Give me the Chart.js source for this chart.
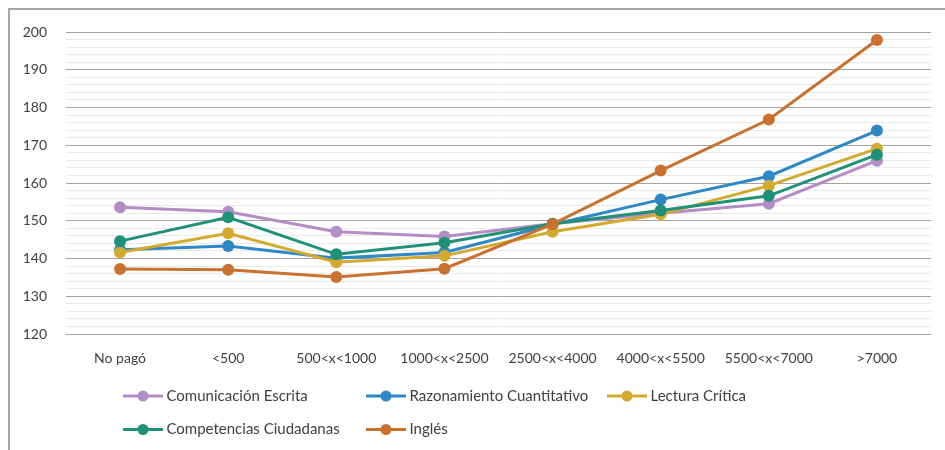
<!DOCTYPE html>
<html>
<head>
<meta charset="utf-8">
<script src="https://cdn.jsdelivr.net/npm/chart.js@4.4.1/dist/chart.umd.min.js"></script>
<style>
  html, body { margin: 0; padding: 0; background: #ffffff; }
  #wrap { position: relative; width: 945px; height: 450px; }
</style>
</head>
<body>
<div id="wrap"><canvas id="c" width="945" height="450"></canvas></div>
<script>
// ---- data ----
const categories = ['No pagó', '<500', '500<x<1000', '1000<x<2500', '2500<x<4000', '4000<x<5500', '5500<x<7000', '>7000'];
const seriesNames = ['Comunicación Escrita', 'Razonamiento Cuantitativo', 'Lectura Crítica', 'Competencias Ciudadanas', 'Inglés'];
const comunicacionEscrita      = [153.6, 152.4, 147.1, 145.8, 149.2, 152.0, 154.5, 165.9];
const razonamientoCuantitativo = [142.3, 143.3, 140.1, 141.6, 149.0, 155.6, 161.8, 173.9];
const lecturaCritica           = [141.6, 146.7, 139.0, 140.7, 147.1, 151.7, 159.3, 169.1];
const competenciasCiudadanas   = [144.6, 150.9, 141.1, 144.2, 149.2, 152.7, 156.6, 167.5];
const ingles                   = [137.2, 137.0, 135.1, 137.3, 149.1, 163.3, 176.8, 197.9];
const yMin = 120, yMax = 200, yMajorStep = 10, yMinorStep = 2;

const seriesValues = [comunicacionEscrita, razonamientoCuantitativo, lecturaCritica, competenciasCiudadanas, ingles];
const seriesColors = ['#B48DC6', '#2F88C6', '#D3AA2D', '#1F9178', '#C9722F'];

const FONT = 'Lato, "Open Sans", sans-serif';
const TEXT = '#404040';

const datasets = seriesNames.map((name, i) => ({
  label: name,
  data: seriesValues[i],
  borderColor: seriesColors[i],
  backgroundColor: seriesColors[i],
  pointBackgroundColor: seriesColors[i],
  pointBorderColor: seriesColors[i],
  borderWidth: 3,
  pointRadius: 6,
  pointBorderWidth: 0,
  pointHoverRadius: 6,
  tension: 0,
  fill: false,
  order: seriesNames.length - i
}));

// frame + custom legend layout
const framePlugin = {
  id: 'frame',
  beforeDraw(chart) {
    const ctx = chart.ctx;
    ctx.save();
    ctx.strokeStyle = '#A6A6A6';
    ctx.lineWidth = 2;
    ctx.beginPath();
    ctx.moveTo(9, 460);
    ctx.lineTo(9, 9);
    ctx.lineTo(960, 9);
    ctx.stroke();
    ctx.restore();
  }
};

const legendPlugin = {
  id: 'customLegend',
  afterDraw(chart) {
    const ctx = chart.ctx;
    const cols = [123, 366, 607];
    const rows = [396, 429.5];
    ctx.save();
    ctx.font = '15px ' + FONT;
    ctx.textBaseline = 'middle';
    ctx.textAlign = 'left';
    chart.data.datasets.forEach((ds, i) => {
      const x = cols[i % 3];
      const y = rows[Math.floor(i / 3)];
      ctx.strokeStyle = ds.borderColor;
      ctx.lineWidth = 3;
      ctx.beginPath();
      ctx.moveTo(x, y);
      ctx.lineTo(x + 40, y);
      ctx.stroke();
      ctx.fillStyle = ds.borderColor;
      ctx.beginPath();
      ctx.arc(x + 20, y, 5.5, 0, Math.PI * 2);
      ctx.fill();
      ctx.fillStyle = TEXT;
      ctx.fillText(ds.label, x + 43.5, y);
    });
    ctx.restore();
  }
};

new Chart(document.getElementById('c'), {
  type: 'line',
  data: { labels: categories, datasets },
  plugins: [framePlugin, legendPlugin],
  options: {
    responsive: false,
    animation: false,
    events: [],
    layout: { padding: { left: 0, right: 14, top: 32, bottom: 0 } },
    plugins: {
      legend: { display: false },
      tooltip: { enabled: false },
      title: { display: false }
    },
    scales: {
      x: {
        offset: true,
        grid: { display: false, drawTicks: false },
        border: { display: false },
        ticks: {
          color: TEXT,
          font: { family: FONT, size: 14 },
          padding: 16,
          maxRotation: 0,
          autoSkip: false
        },
        afterFit(scale) { scale.height = 116; }
      },
      y: {
        min: yMin,
        max: yMax,
        grid: {
          drawTicks: false,
          lineWidth: 1,
          color: (c) => (c.tick && Math.round(c.tick.value) % yMajorStep === 0) ? '#A3A3A3' : '#EAEAEA'
        },
        border: { display: false },
        ticks: {
          stepSize: yMinorStep,
          autoSkip: false,
          color: TEXT,
          font: { family: FONT, size: 14 },
          padding: 19,
          callback: (v) => (Math.round(v) % yMajorStep === 0) ? String(v) : ''
        },
        afterFit(scale) { scale.width = 66; }
      }
    }
  }
});
</script>
</body>
</html>
